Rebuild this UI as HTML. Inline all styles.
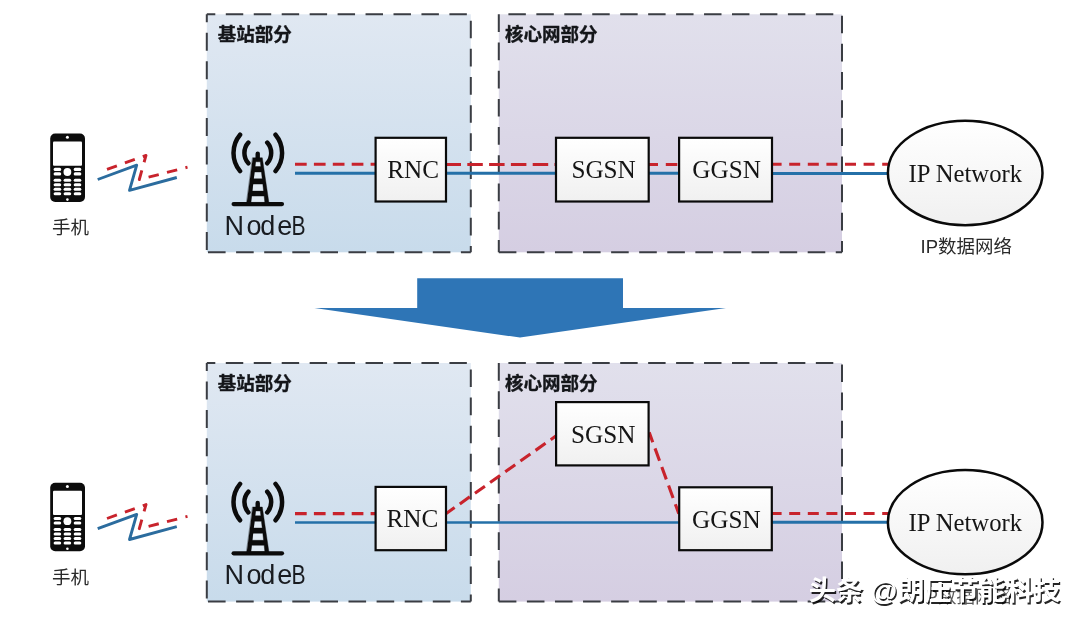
<!DOCTYPE html>
<html lang="zh-CN">
<head>
<meta charset="utf-8">
<title>3G 网络架构演进</title>
<style>
html,body{margin:0;padding:0;background:#fff;}
body{width:1080px;height:623px;overflow:hidden;font-family:"Liberation Sans","Noto Sans CJK SC",sans-serif;}
svg{display:block;will-change:transform;}
</style>
</head>
<body>
<svg width="1080" height="623" viewBox="0 0 1080 623">
<defs>
<linearGradient id="gblue" x1="0" y1="0" x2="0" y2="1"><stop offset="0" stop-color="#e0e8f2"/><stop offset="1" stop-color="#c8dbeb"/></linearGradient>
<linearGradient id="gpurp" x1="0" y1="0" x2="0" y2="1"><stop offset="0" stop-color="#e1e0ec"/><stop offset="1" stop-color="#d5cee2"/></linearGradient>
<linearGradient id="gbox" x1="0" y1="0" x2="0" y2="1"><stop offset="0" stop-color="#ffffff"/><stop offset="1" stop-color="#f0f0f0"/></linearGradient>
<linearGradient id="gell" x1="0" y1="0" x2="0" y2="1"><stop offset="0" stop-color="#ffffff"/><stop offset="1" stop-color="#f0f0f0"/></linearGradient>
<filter id="wmsh" x="-5%" y="-20%" width="110%" height="140%"><feGaussianBlur stdDeviation="0.45"/></filter>
</defs>
<rect width="1080" height="623" fill="#ffffff"/>

<!-- top diagram -->
<rect x="206.8" y="14.30" width="264" height="238.00" fill="url(#gblue)"/><rect x="498.8" y="14.30" width="343.2" height="238.00" fill="url(#gpurp)"/><g fill="none" stroke="#3a3d43" stroke-width="2"><path d="M206.8 14.30H470.8" stroke-dasharray="17.45 10.5" stroke-dashoffset="8.95"/><path d="M206.8 14.30V252.30" stroke-dasharray="18 10.45" stroke-dashoffset="10"/><path d="M470.8 14.30V252.30" stroke-dasharray="17.65 10.5" stroke-dashoffset="21.75"/><path d="M206.8 252.30H470.8" stroke-dasharray="17.6 10.5" stroke-dashoffset="26.9"/><path d="M498.8 14.30H842" stroke-dasharray="17.45 10.5" stroke-dashoffset="18.35"/><path d="M498.8 14.30V252.30" stroke-dasharray="17.7 10.5" stroke-dashoffset="0"/><path d="M842 14.30V252.30" stroke-dasharray="17.65 10.5" stroke-dashoffset="26.75"/><path d="M498.8 252.30H842" stroke-dasharray="17.6 10.48" stroke-dashoffset="0"/></g><text x="217.8" y="40.6" font-family="'Liberation Sans', 'Noto Sans CJK SC', sans-serif" font-weight="bold" font-size="18.5" fill="#14161a" stroke="#14161a" stroke-width="0.35">基站部分</text><text x="505" y="40.6" font-family="'Liberation Sans', 'Noto Sans CJK SC', sans-serif" font-weight="bold" font-size="18.5" fill="#14161a" stroke="#14161a" stroke-width="0.35">核心网部分</text>
<g fill="none" stroke="#2470a8" stroke-width="3.1"><path d="M295 173.3H376M446 173.2H556M648 173.2H680M771 173.5H888"/></g><g fill="none" stroke="#c8232c" stroke-width="3"><path d="M295 164.3H376" stroke-dasharray="11.7 7.2"/><path d="M445.5 164.4H556" stroke-dasharray="15.5 6.3"/><path d="M646.5 164.4H680" stroke-dasharray="11.5 7.8"/><path d="M770.6 164.3H888" stroke-dasharray="11 7.6"/></g>
<rect x="375.6" y="137.8" width="70.4" height="63.7" fill="url(#gbox)" stroke="#0a0a0a" stroke-width="2.2"/><text x="387.2" y="178" font-family="'Liberation Serif', serif" font-size="25.2" fill="#151515">RNC</text>
<rect x="556.0" y="137.8" width="92.7" height="63.7" fill="url(#gbox)" stroke="#0a0a0a" stroke-width="2.2"/><text x="571.4" y="178.1" font-family="'Liberation Serif', serif" font-size="25.2" fill="#151515">SGSN</text>
<rect x="679.1" y="137.8" width="92.9" height="63.7" fill="url(#gbox)" stroke="#0a0a0a" stroke-width="2.2"/><text x="692.3" y="178" font-family="'Liberation Serif', serif" font-size="25.2" fill="#151515">GGSN</text>
<ellipse cx="965.2" cy="172.95" rx="77.3" ry="52.2" fill="url(#gell)" stroke="#0a0a0a" stroke-width="2.5"/><text x="908.5" y="181.9" font-family="'Liberation Serif', serif" font-size="24.7" fill="#151515">IP Network</text>
<g transform="translate(0 0)"><rect x="50.2" y="133.5" width="34.8" height="68.5" rx="5" fill="#0c0c0c"/><rect x="53" y="141.6" width="29" height="24.2" rx="1" fill="#fff"/><circle cx="67.4" cy="137.3" r="1.5" fill="#fff"/><circle cx="67.4" cy="199.6" r="1.3" fill="#fff"/><circle cx="67.4" cy="172" r="3.9" fill="#fff"/><rect x="53.6" y="167.8" width="7.6" height="3.1" rx="1.5" fill="#fff"/><rect x="73.7" y="167.8" width="7.6" height="3.1" rx="1.5" fill="#fff"/><rect x="53.6" y="172.3" width="7.6" height="3.1" rx="1.5" fill="#fff"/><rect x="73.7" y="172.3" width="7.6" height="3.1" rx="1.5" fill="#fff"/><rect x="53.6" y="178.7" width="7.6" height="3.1" rx="1.5" fill="#fff"/><rect x="63.6" y="178.7" width="7.6" height="3.1" rx="1.5" fill="#fff"/><rect x="73.7" y="178.7" width="7.6" height="3.1" rx="1.5" fill="#fff"/><rect x="53.6" y="183.2" width="7.6" height="3.1" rx="1.5" fill="#fff"/><rect x="63.6" y="183.2" width="7.6" height="3.1" rx="1.5" fill="#fff"/><rect x="73.7" y="183.2" width="7.6" height="3.1" rx="1.5" fill="#fff"/><rect x="53.6" y="187.7" width="7.6" height="3.1" rx="1.5" fill="#fff"/><rect x="63.6" y="187.7" width="7.6" height="3.1" rx="1.5" fill="#fff"/><rect x="73.7" y="187.7" width="7.6" height="3.1" rx="1.5" fill="#fff"/><rect x="53.6" y="192.2" width="7.6" height="3.1" rx="1.5" fill="#fff"/><rect x="63.6" y="192.2" width="7.6" height="3.1" rx="1.5" fill="#fff"/><rect x="73.7" y="192.2" width="7.6" height="3.1" rx="1.5" fill="#fff"/></g>
<g transform="translate(0 0)" fill="none" stroke-linejoin="round"><path d="M97.7 179.5L136.7 165.2L129.5 190.3L176.8 177.5" stroke="#2b6c9e" stroke-width="2.9"/><path d="M107 169.3L146 155.4L139.3 179.5L187.5 167.2" stroke="#c8232c" stroke-width="2.9" stroke-dasharray="10.5 8.5"/></g>
<g transform="translate(0 0)" fill="none" stroke="#0b0b0b" stroke-linecap="round" stroke-linejoin="round"><path d="M248.39 142.56A15.4 15.4 0 0 0 248.39 163.24 M267.21 142.56A15.4 15.4 0 0 1 267.21 163.24 M240.08 134.72A28.4 28.4 0 0 0 240.08 171.08 M275.52 134.72A28.4 28.4 0 0 1 275.52 171.08" stroke-width="4.5"/><path d="M233.6 204.1H282" stroke-width="4.2"/><path d="M257.7 153.8V159" stroke-width="4.4"/><path d="M255.78 161.8H260.32L260.86 166.6H255.22ZM254.59 172.0H261.45L262.21 178.8H253.80ZM253.19 184.1H262.80L263.57 191.1H252.38ZM251.80 196.1H264.13L264.83 202.4H251.07Z" fill="#ffffff" fill-opacity="0.35" stroke="none"/><path d="M252.8 157.8H262.3L269.1 204H246.6ZM255.78 161.8H260.32L260.86 166.6H255.22ZM254.59 172.0H261.45L262.21 178.8H253.80ZM253.19 184.1H262.80L263.57 191.1H252.38ZM251.80 196.1H264.13L264.83 202.4H251.07Z" fill="#0b0b0b" fill-rule="evenodd" stroke="#0b0b0b" stroke-width="0.4" stroke-linejoin="round"/></g>
<text x="224.5 246.5 260.3 277.2" y="234.6" font-family="'Liberation Sans', sans-serif" font-size="27" fill="#181b20">Node<tspan x="291.4" textLength="14.1" lengthAdjust="spacingAndGlyphs">B</tspan></text>
<text x="52" y="234.3" font-family="'Liberation Sans', 'Noto Sans CJK SC', sans-serif" font-size="18.5" fill="#2a2a2a">手机</text>
<text x="920.5" y="253.4" font-family="'Liberation Sans', 'Noto Sans CJK SC', sans-serif" font-size="18.5" fill="#2a2a2a">IP数据网络</text>
<path d="M417.2 278.3H623V308H726L520 337.6L314.5 308H417.2Z" fill="#2e75b6"/>
<!-- bottom diagram -->
<rect x="206.8" y="363.00" width="264" height="238.60" fill="url(#gblue)"/><rect x="498.8" y="363.00" width="343.2" height="238.60" fill="url(#gpurp)"/><g fill="none" stroke="#3a3d43" stroke-width="2"><path d="M206.8 363.00H470.8" stroke-dasharray="17.45 10.5" stroke-dashoffset="8.95"/><path d="M206.8 363.00V601.60" stroke-dasharray="18 10.45" stroke-dashoffset="10"/><path d="M470.8 363.00V601.60" stroke-dasharray="17.65 10.5" stroke-dashoffset="21.75"/><path d="M206.8 601.60H470.8" stroke-dasharray="17.6 10.5" stroke-dashoffset="26.9"/><path d="M498.8 363.00H842" stroke-dasharray="17.45 10.5" stroke-dashoffset="18.35"/><path d="M498.8 363.00V601.60" stroke-dasharray="17.7 10.5" stroke-dashoffset="0"/><path d="M842 363.00V601.60" stroke-dasharray="17.65 10.5" stroke-dashoffset="26.75"/><path d="M498.8 601.60H842" stroke-dasharray="17.6 10.48" stroke-dashoffset="0"/></g><text x="217.8" y="389.8" font-family="'Liberation Sans', 'Noto Sans CJK SC', sans-serif" font-weight="bold" font-size="18.5" fill="#14161a" stroke="#14161a" stroke-width="0.35">基站部分</text><text x="505" y="389.8" font-family="'Liberation Sans', 'Noto Sans CJK SC', sans-serif" font-weight="bold" font-size="18.5" fill="#14161a" stroke="#14161a" stroke-width="0.35">核心网部分</text>
<g fill="none" stroke="#2470a8"><path d="M295 522.4H680" stroke-width="2.5"/><path d="M771 522.3H888" stroke-width="3.1"/></g>
<g fill="none" stroke="#c8232c" stroke-width="3.1"><path d="M295 513.6H376" stroke-dasharray="11.7 7.2"/><path d="M446.2 513.5L556.5 435.6" stroke-dasharray="12.2 6.35" stroke-dashoffset="1.9"/><path d="M649.2 432.4L678.8 513.6" stroke-dasharray="13.2 6.6" stroke-dashoffset="2.8"/><path d="M770.6 513.5H888" stroke-dasharray="11 7.6"/></g>
<rect x="375.6" y="486.9" width="70.4" height="63.3" fill="url(#gbox)" stroke="#0a0a0a" stroke-width="2.2"/><text x="386.4" y="527.3" font-family="'Liberation Serif', serif" font-size="25.2" fill="#151515">RNC</text>
<rect x="556.1" y="402.1" width="92.5" height="63.3" fill="url(#gbox)" stroke="#0a0a0a" stroke-width="2.2"/><text x="571.0" y="442.5" font-family="'Liberation Serif', serif" font-size="25.2" fill="#151515">SGSN</text>
<rect x="679.2" y="487.3" width="92.6" height="62.9" fill="url(#gbox)" stroke="#0a0a0a" stroke-width="2.2"/><text x="692.0" y="527.5" font-family="'Liberation Serif', serif" font-size="25.2" fill="#151515">GGSN</text>
<ellipse cx="965.2" cy="522.15" rx="77.3" ry="52.2" fill="url(#gell)" stroke="#0a0a0a" stroke-width="2.5"/><text x="908.5" y="531.1" font-family="'Liberation Serif', serif" font-size="24.7" fill="#151515">IP Network</text>
<g transform="translate(0 349.2)"><rect x="50.2" y="133.5" width="34.8" height="68.5" rx="5" fill="#0c0c0c"/><rect x="53" y="141.6" width="29" height="24.2" rx="1" fill="#fff"/><circle cx="67.4" cy="137.3" r="1.5" fill="#fff"/><circle cx="67.4" cy="199.6" r="1.3" fill="#fff"/><circle cx="67.4" cy="172" r="3.9" fill="#fff"/><rect x="53.6" y="167.8" width="7.6" height="3.1" rx="1.5" fill="#fff"/><rect x="73.7" y="167.8" width="7.6" height="3.1" rx="1.5" fill="#fff"/><rect x="53.6" y="172.3" width="7.6" height="3.1" rx="1.5" fill="#fff"/><rect x="73.7" y="172.3" width="7.6" height="3.1" rx="1.5" fill="#fff"/><rect x="53.6" y="178.7" width="7.6" height="3.1" rx="1.5" fill="#fff"/><rect x="63.6" y="178.7" width="7.6" height="3.1" rx="1.5" fill="#fff"/><rect x="73.7" y="178.7" width="7.6" height="3.1" rx="1.5" fill="#fff"/><rect x="53.6" y="183.2" width="7.6" height="3.1" rx="1.5" fill="#fff"/><rect x="63.6" y="183.2" width="7.6" height="3.1" rx="1.5" fill="#fff"/><rect x="73.7" y="183.2" width="7.6" height="3.1" rx="1.5" fill="#fff"/><rect x="53.6" y="187.7" width="7.6" height="3.1" rx="1.5" fill="#fff"/><rect x="63.6" y="187.7" width="7.6" height="3.1" rx="1.5" fill="#fff"/><rect x="73.7" y="187.7" width="7.6" height="3.1" rx="1.5" fill="#fff"/><rect x="53.6" y="192.2" width="7.6" height="3.1" rx="1.5" fill="#fff"/><rect x="63.6" y="192.2" width="7.6" height="3.1" rx="1.5" fill="#fff"/><rect x="73.7" y="192.2" width="7.6" height="3.1" rx="1.5" fill="#fff"/></g>
<g transform="translate(0 349.2)" fill="none" stroke-linejoin="round"><path d="M97.7 179.5L136.7 165.2L129.5 190.3L176.8 177.5" stroke="#2b6c9e" stroke-width="2.9"/><path d="M107 169.3L146 155.4L139.3 179.5L187.5 167.2" stroke="#c8232c" stroke-width="2.9" stroke-dasharray="10.5 8.5"/></g>
<g transform="translate(0 349.2)" fill="none" stroke="#0b0b0b" stroke-linecap="round" stroke-linejoin="round"><path d="M248.39 142.56A15.4 15.4 0 0 0 248.39 163.24 M267.21 142.56A15.4 15.4 0 0 1 267.21 163.24 M240.08 134.72A28.4 28.4 0 0 0 240.08 171.08 M275.52 134.72A28.4 28.4 0 0 1 275.52 171.08" stroke-width="4.5"/><path d="M233.6 204.1H282" stroke-width="4.2"/><path d="M257.7 153.8V159" stroke-width="4.4"/><path d="M255.78 161.8H260.32L260.86 166.6H255.22ZM254.59 172.0H261.45L262.21 178.8H253.80ZM253.19 184.1H262.80L263.57 191.1H252.38ZM251.80 196.1H264.13L264.83 202.4H251.07Z" fill="#ffffff" fill-opacity="0.35" stroke="none"/><path d="M252.8 157.8H262.3L269.1 204H246.6ZM255.78 161.8H260.32L260.86 166.6H255.22ZM254.59 172.0H261.45L262.21 178.8H253.80ZM253.19 184.1H262.80L263.57 191.1H252.38ZM251.80 196.1H264.13L264.83 202.4H251.07Z" fill="#0b0b0b" fill-rule="evenodd" stroke="#0b0b0b" stroke-width="0.4" stroke-linejoin="round"/></g>
<text x="224.5 246.5 260.3 277.2" y="583.6" font-family="'Liberation Sans', sans-serif" font-size="27" fill="#181b20">Node<tspan x="291.4" textLength="14.1" lengthAdjust="spacingAndGlyphs">B</tspan></text>
<text x="52" y="583.5" font-family="'Liberation Sans', 'Noto Sans CJK SC', sans-serif" font-size="18.5" fill="#2a2a2a">手机</text>
<text x="920.5" y="602.6" font-family="'Liberation Sans', 'Noto Sans CJK SC', sans-serif" font-size="18.5" fill="#5a5a5a">IP数据网络</text>
<text x="810.2" y="601.6" font-family="'Liberation Sans', 'Noto Sans CJK SC', sans-serif" font-size="27.2" font-weight="bold" fill="#000" opacity="0.85" filter="url(#wmsh)">头条 @朗压节能科技</text>
<text x="808.8" y="600.2" font-family="'Liberation Sans', 'Noto Sans CJK SC', sans-serif" font-size="27.2" font-weight="bold" fill="#ffffff">头条 @朗压节能科技</text>
</svg>
</body>
</html>
